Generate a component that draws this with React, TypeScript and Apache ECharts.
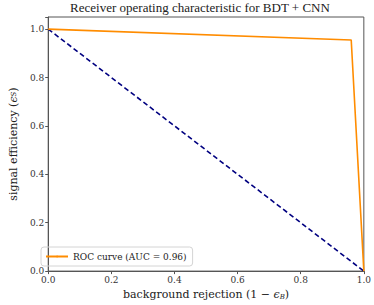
import React, { useEffect, useRef } from "react";
import * as echarts from "echarts";

const rocFpr = [0, 0.96, 1.0];
const rocTpr = [1.0, 0.955, 0.0];
const diagX = [0, 1];
const diagY = [1, 0];
const xTicks = [0, 0.2, 0.4, 0.6, 0.8, 1.0];
const yTicks = [0, 0.2, 0.4, 0.6, 0.8, 1.0];
const rocLabel = "ROC curve (AUC = 0.96)";
const titleText = "Receiver operating characteristic for BDT + CNN";

const FONT = "'DejaVu Serif', 'Liberation Serif', serif";
const TFONT = "'Liberation Serif', 'DejaVu Serif', serif";

export default function App() {
  const ref = useRef<HTMLDivElement>(null);
  useEffect(() => {
    if (!ref.current) return;
    const chart = echarts.init(ref.current, undefined, { renderer: "svg" });
    const fmt = (v: number, ticks: number[]) =>
      ticks.some((t) => Math.abs(t - v) < 1e-6) ? v.toFixed(1) : "";
    chart.setOption({
      animation: false,
      backgroundColor: "#ffffff",
      title: {
        text: titleText,
        left: 200,
        textAlign: "center",
        top: 1,
        padding: [0, 0, 0, 0],
        textStyle: { fontFamily: TFONT, fontSize: 13, fontWeight: "normal", color: "#222" },
      },
      grid: {
        left: 36,
        right: 10,
        top: 17,
        bottom: 33,
        show: true,
        borderColor: "#555",
        borderWidth: 1,
        backgroundColor: "transparent",
      },
      legend: {
        left: 41,
        top: 247,
        orient: "vertical",
        data: [{ name: rocLabel }],
        itemWidth: 22,
        itemHeight: 2,
        itemGap: 4,
        padding: [5, 6, 5, 4],
        borderColor: "#d4d4d4",
        borderWidth: 1,
        borderRadius: 3,
        textStyle: { fontFamily: FONT, fontSize: 9, color: "#222" },
      },
      xAxis: {
        type: "value",
        min: 0,
        max: 1,
        interval: 0.2,
        name: "background rejection (1 − {e|ϵ}{s|B})",
        nameLocation: "middle",
        nameGap: 17,
        nameTextStyle: {
          fontFamily: FONT,
          fontSize: 11,
          color: "#222",
          rich: {
            e: { fontFamily: FONT, fontSize: 11, fontStyle: "italic", color: "#222" },
            s: { fontFamily: FONT, fontSize: 7, fontStyle: "italic", color: "#222", verticalAlign: "bottom", padding: [4, 0, 0, 0] },
          },
        },
        axisLine: { show: true, lineStyle: { color: "#555", width: 1 } },
        axisTick: { show: true, length: 3, lineStyle: { color: "#555" } },
        splitLine: { show: false },
        axisLabel: {
          fontFamily: FONT,
          fontSize: 9,
          color: "#333",
          margin: 4,
          formatter: (v: number) => fmt(v, xTicks),
        },
      },
      yAxis: {
        type: "value",
        min: 0,
        max: 1.05,
        interval: 0.2,
        name: "signal efficiency ({e|ϵ}{s|S})",
        nameLocation: "middle",
        nameGap: 25,
        nameTextStyle: {
          fontFamily: FONT,
          fontSize: 11,
          color: "#222",
          rich: {
            e: { fontFamily: FONT, fontSize: 11, fontStyle: "italic", color: "#222" },
            s: { fontFamily: FONT, fontSize: 7, fontStyle: "italic", color: "#222" },
          },
        },
        axisLine: { show: true, lineStyle: { color: "#555", width: 1 } },
        axisTick: { show: true, length: 3, lineStyle: { color: "#555" } },
        splitLine: { show: false },
        axisLabel: {
          fontFamily: FONT,
          fontSize: 9,
          color: "#333",
          margin: 4,
          formatter: (v: number) => fmt(v, yTicks),
        },
      },
      series: [
        {
          name: rocLabel,
          type: "line",
          symbol: "none",
          data: rocFpr.map((x, i) => [x, rocTpr[i]]),
          lineStyle: { color: "#ff8c00", width: 1.6 },
          itemStyle: { color: "#ff8c00" },
          z: 3,
        },
        {
          name: "chance",
          type: "line",
          symbol: "none",
          data: diagX.map((x, i) => [x, diagY[i]]),
          lineStyle: { color: "#000080", width: 1.6, type: [5, 3] },
          itemStyle: { color: "#000080" },
          z: 2,
        },
      ],
    });
    return () => chart.dispose();
  }, []);
  return <div ref={ref} style={{ width: 374, height: 305, position: "absolute", left: 0, top: 0 }} />;
}
